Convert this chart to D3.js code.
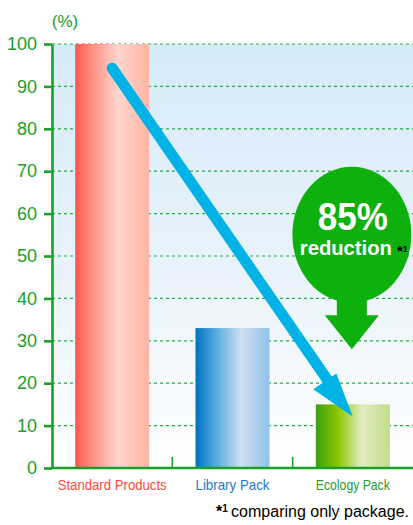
<!DOCTYPE html>
<html>
<head>
<meta charset="utf-8">
<title>Package reduction</title>
<script src="https://d3js.org/d3.v7.min.js"></script>
<style>
  body { margin: 0; background: #fff; }
  text { font-family: "Liberation Sans", Arial, sans-serif; }
</style>
</head>
<body>
<script>
// data
var categories = ["Standard Products", "Library Pack", "Ecology Pack"];
var values = [100, 33, 15];
var yTicks = [0, 10, 20, 30, 40, 50, 60, 70, 80, 90, 100];
var unitLabel = "(%)";
var badgeValue = "85%";
var badgeText = "reduction";
var footnote = "comparing only package.";
// arrow runs from the top of the standard bar down to the ecology bar (in data units)
var arrowFrom = { cat: "Standard Products", value: 94.3 };
var arrowTo = { cat: "Ecology Pack", value: 12.1 };

// styles
var green = "#17a02a";
var labelColors = ["#ff4a3c", "#1f78c8", "#2a9a30"];
var barStops = [
  [["0%", "#ff584c"], ["25%", "#ff9488"], ["58%", "#ffd6cf"], ["100%", "#ffb5a4"]],
  [["0%", "#0070bf"], ["25%", "#4aa8dd"], ["62%", "#d2def0"], ["100%", "#90c3e9"]],
  [["0%", "#38a014"], ["30%", "#8cc700"], ["62%", "#e3ecc2"], ["100%", "#c2dd8a"]]
];

var W = 413, H = 525;
var svg = d3.select("body").append("svg")
  .attr("width", W).attr("height", H);

var y = d3.scaleLinear().domain([0, 100]).range([468, 44]);
var x = d3.scaleBand().domain(categories).range([52, 413]).padding(0);
var barW = x.bandwidth() * 0.615;

var defs = svg.append("defs");
var bg = defs.append("linearGradient").attr("id", "bg")
  .attr("x1", 0).attr("y1", 0).attr("x2", 0).attr("y2", 1);
bg.append("stop").attr("offset", "0%").attr("stop-color", "#d5ebf8");
bg.append("stop").attr("offset", "55%").attr("stop-color", "#eaf3fb");
bg.append("stop").attr("offset", "100%").attr("stop-color", "#ffffff");

barStops.forEach(function (s, i) {
  var g = defs.append("linearGradient").attr("id", "bar" + i)
    .attr("x1", 0).attr("y1", 0).attr("x2", 1).attr("y2", 0);
  s.forEach(function (st) {
    g.append("stop").attr("offset", st[0]).attr("stop-color", st[1]);
  });
});

// plot background
svg.append("rect")
  .attr("x", x.range()[0]).attr("y", y(100))
  .attr("width", x.range()[1] - x.range()[0])
  .attr("height", y(0) - y(100))
  .attr("fill", "url(#bg)");

// dashed grid
svg.append("g").selectAll("line")
  .data(yTicks.filter(function (d) { return d > 0; }))
  .enter().append("line")
  .attr("x1", x.range()[0]).attr("x2", x.range()[1])
  .attr("y1", function (d) { return y(d); })
  .attr("y2", function (d) { return y(d); })
  .attr("stroke", "#2aa84a")
  .attr("stroke-width", 1.2)
  .attr("stroke-dasharray", "3,3");

// bars
svg.append("g").selectAll("rect")
  .data(values)
  .enter().append("rect")
  .attr("x", function (d, i) { return x(categories[i]) + (x.bandwidth() - barW) / 2; })
  .attr("y", function (d) { return y(d); })
  .attr("width", barW)
  .attr("height", function (d) { return y(0) - y(d); })
  .attr("fill", function (d, i) { return "url(#bar" + i + ")"; });

// y axis
var yAxis = svg.append("g")
  .attr("transform", "translate(" + x.range()[0] + ",0)")
  .call(d3.axisLeft(y).tickValues(yTicks).tickSize(8).tickSizeOuter(0).tickPadding(7));
yAxis.select(".domain").attr("stroke", green).attr("stroke-width", 2.6);
yAxis.selectAll(".tick line").attr("stroke", green).attr("stroke-width", 2.6);
yAxis.selectAll(".tick text")
  .attr("fill", green)
  .style("font-size", "18px")
  .style("font-family", "'Liberation Sans', Arial, sans-serif");

// x axis line + small ticks between bands
svg.append("line")
  .attr("x1", x.range()[0] - 1.3).attr("x2", x.range()[1])
  .attr("y1", y(0)).attr("y2", y(0))
  .attr("stroke", green).attr("stroke-width", 2.6);
svg.append("g").selectAll("line")
  .data(categories.slice(1))
  .enter().append("line")
  .attr("x1", function (d) { return x(d); })
  .attr("x2", function (d) { return x(d); })
  .attr("y1", y(0)).attr("y2", y(0) - 11)
  .attr("stroke", green).attr("stroke-width", 1.6);

// category labels
svg.append("g").selectAll("text")
  .data(categories)
  .enter().append("text")
  .attr("x", function (d) { return x(d) + x.bandwidth() / 2; })
  .attr("y", 490)
  .attr("text-anchor", "middle")
  .attr("fill", function (d, i) { return labelColors[i]; })
  .style("font-size", "15px")
  .attr("textLength", function (d, i) { return [109, 74, 74][i]; })
  .attr("lengthAdjust", "spacingAndGlyphs")
  .text(function (d) { return d; });

// unit label
svg.append("text")
  .attr("x", 65).attr("y", 26.5)
  .attr("text-anchor", "middle")
  .attr("fill", green)
  .style("font-size", "17px")
  .text(unitLabel);

// blue arrow
var ax0 = x(arrowFrom.cat) + x.bandwidth() / 2, ay0 = y(arrowFrom.value);
var ax1 = x(arrowTo.cat) + x.bandwidth() / 2, ay1 = y(arrowTo.value);
var len = Math.hypot(ax1 - ax0, ay1 - ay0);
var ux = (ax1 - ax0) / len, uy = (ay1 - ay0) / len;
var nx = uy, ny = -ux;
var headLen = 45;
svg.append("line")
  .attr("x1", ax0).attr("y1", ay0)
  .attr("x2", ax1 - ux * (headLen - 4)).attr("y2", ay1 - uy * (headLen - 4))
  .attr("stroke", "#00b2e6").attr("stroke-width", 11)
  .attr("stroke-linecap", "round");
var bx = ax1 - ux * headLen, by = ay1 - uy * headLen;
svg.append("path")
  .attr("d", d3.line()([
    [ax1, ay1],
    [bx + nx * -17, by + ny * -17],
    [bx + nx * 11, by + ny * 11]
  ]) + "Z")
  .attr("fill", "#00b2e6");

// green badge with downward arrow
var bcx = x(arrowTo.cat) + x.bandwidth() / 2 - 1;
var bcy = y(55);
var badge = svg.append("g").attr("fill", "#0db00d");
badge.append("ellipse")
  .attr("cx", bcx).attr("cy", bcy)
  .attr("rx", 59.5).attr("ry", 68);
badge.append("path")
  .attr("d", d3.line()([
    [bcx - 15, bcy + 55], [bcx + 15, bcy + 55],
    [bcx + 15, y(36)], [bcx + 27, y(36)],
    [bcx, y(28)],
    [bcx - 27, y(36)], [bcx - 15, y(36)]
  ]) + "Z");

svg.append("text")
  .attr("x", bcx + 1).attr("y", 230)
  .attr("text-anchor", "middle")
  .attr("fill", "#fff")
  .style("font-size", "39px").style("font-weight", "bold")
  .attr("textLength", 70).attr("lengthAdjust", "spacingAndGlyphs")
  .text(badgeValue);
svg.append("text")
  .attr("x", bcx - 6).attr("y", 255)
  .attr("text-anchor", "middle")
  .attr("fill", "#fff")
  .style("font-size", "21px").style("font-weight", "bold")
  .attr("textLength", 92).attr("lengthAdjust", "spacingAndGlyphs")
  .text(badgeText);
var star = svg.append("text").attr("x", 397).attr("y", 256).attr("fill", "#000")
  .style("font-weight", "bold");
star.append("tspan").style("font-size", "15px").text("*");
star.append("tspan").attr("dy", -4).style("font-size", "9px").text("1");

// footnote
var fn = svg.append("text").attr("x", 216).attr("y", 517).attr("fill", "#000")
  .style("font-weight", "bold");
fn.append("tspan").style("font-size", "16px").text("*");
fn.append("tspan").attr("dy", -5).style("font-size", "10px").text("1");
svg.append("text")
  .attr("x", 409).attr("y", 517)
  .attr("text-anchor", "end")
  .attr("fill", "#000")
  .style("font-size", "16px")
  .text(footnote);
</script>
</body>
</html>
